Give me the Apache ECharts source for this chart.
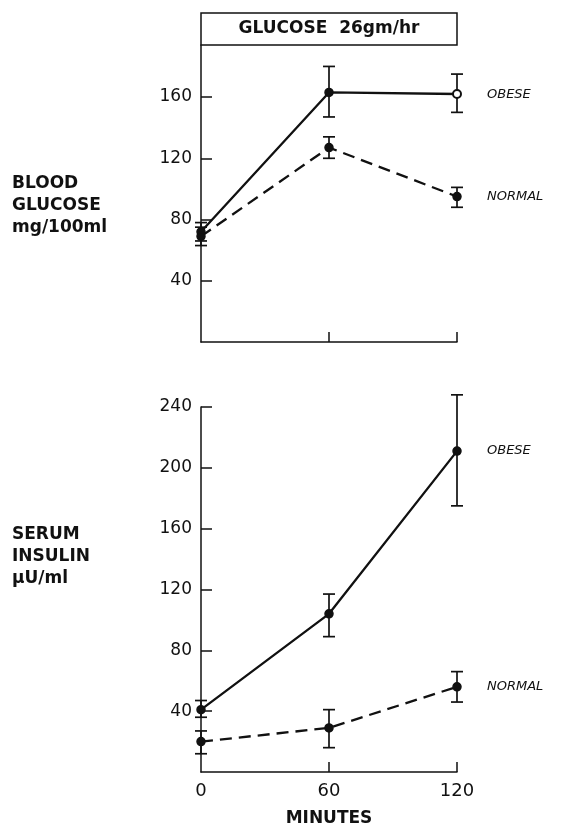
<!DOCTYPE html>
<html>
<head>
<meta charset="utf-8">
<script src="https://cdn.jsdelivr.net/npm/echarts@6/dist/echarts.min.js"></script>
<style>html,body{margin:0;padding:0;background:#fff;}#c{width:573px;height:828px;}</style>
</head>
<body>
<div id="c"></div>
<script>
// ---- data ----
const minutes = [0, 60, 120];
const minuteTicks = [0, 60, 120];
const glucoseTicks = [40, 80, 120, 160];
const insulinTicks = [40, 80, 120, 160, 200, 240];

const glucoseObese = [72, 163, 162];
const glucoseObeseLow = [66, 147, 150];
const glucoseObeseHigh = [78, 180, 175];
const glucoseNormal = [69, 127, 95];
const glucoseNormalLow = [63, 120, 88];
const glucoseNormalHigh = [75, 134, 101];

const insulinObese = [41, 104, 211];
const insulinObeseLow = [36, 89, 175];
const insulinObeseHigh = [47, 117, 248];
const insulinNormal = [20, 29, 56];
const insulinNormalLow = [12, 16, 46];
const insulinNormalHigh = [27, 41, 66];

const titleText = 'GLUCOSE  26gm/hr';
const topLabel = ['BLOOD', 'GLUCOSE', 'mg/100ml'];
const bottomLabel = ['SERUM', 'INSULIN', '\u00B5U/ml'];
const groupNames = ['OBESE', 'NORMAL'];
const xName = 'MINUTES';

// ---- helpers ----
const pairs = (xs, ys) => xs.map((x, i) => [x, ys[i]]);
const triples = (xs, lo, hi) => xs.map((x, i) => [x, lo[i], hi[i]]);
const FONT = 'DejaVu Sans';

function errRender(params, api) {
  const x = api.value(0);
  const p1 = api.coord([x, api.value(1)]);
  const p2 = api.coord([x, api.value(2)]);
  const cap = 6;
  const st = { stroke: '#111', lineWidth: 1.7 };
  return {
    type: 'group',
    children: [
      { type: 'line', shape: { x1: p1[0], y1: p1[1], x2: p2[0], y2: p2[1] }, style: st },
      { type: 'line', shape: { x1: p1[0] - cap, y1: p1[1], x2: p1[0] + cap, y2: p1[1] }, style: st },
      { type: 'line', shape: { x1: p2[0] - cap, y1: p2[1], x2: p2[0] + cap, y2: p2[1] }, style: st }
    ]
  };
}

const axisLineStyle = { color: '#111', width: 1.5 };

function xAxisCfg(gridIndex, showLabels) {
  return {
    type: 'value', gridIndex: gridIndex, min: 0, max: 120, interval: 60,
    axisLine: { show: true, onZero: false, lineStyle: axisLineStyle },
    axisTick: { show: true, inside: true, length: 10, lineStyle: axisLineStyle, customValues: [60, 120] },
    axisLabel: showLabels ? { show: true, margin: 10, color: '#111', fontFamily: FONT, fontSize: 18, customValues: minuteTicks } : { show: false },
    splitLine: { show: false },
    name: showLabels ? xName : '',
    nameLocation: 'middle', nameGap: 38,
    nameTextStyle: { color: '#111', fontFamily: FONT, fontWeight: 'bold', fontSize: 17 }
  };
}

function yAxisCfg(gridIndex, max, ticks) {
  return {
    type: 'value', gridIndex: gridIndex, min: 0, max: max, interval: 40,
    axisLine: { show: true, onZero: false, lineStyle: axisLineStyle },
    axisTick: { show: true, inside: true, length: 11, lineStyle: axisLineStyle, customValues: ticks },
    axisLabel: { show: true, margin: 9, color: '#111', fontFamily: FONT, fontSize: 17, customValues: ticks },
    splitLine: { show: false }
  };
}

function lineSeries(xi, yi, data, dashed, symbol) {
  return {
    type: 'line', xAxisIndex: xi, yAxisIndex: yi, data: data,
    symbol: symbol, symbolSize: 8, showSymbol: true, animation: false,
    lineStyle: { color: '#111', width: 2.3, type: dashed ? [12, 7] : 'solid' },
    itemStyle: { color: '#111', borderColor: '#111', borderWidth: 1.5 },
    z: 3
  };
}

function errSeries(xi, yi, data) {
  return {
    type: 'custom', xAxisIndex: xi, yAxisIndex: yi, data: data,
    renderItem: errRender, encode: { x: 0, y: [1, 2] }, animation: false, z: 2
  };
}

function textLines(lines, x, yStart, step, style) {
  return lines.map((t, i) => ({
    type: 'text', left: x, top: yStart + i * step,
    style: Object.assign({ text: t, fill: '#111', fontFamily: FONT }, style)
  }));
}

// top obese: open circle on the last reading
const obeseTopSymbol = (value) => (value[0] === 120 ? 'emptyCircle' : 'circle');

const chart = echarts.init(document.getElementById('c'), null, { renderer: 'canvas' });
chart.setOption({
  backgroundColor: '#fff',
  animation: false,
  grid: [
    { left: 201, right: 116, top: 45, height: 297 },
    { left: 201, right: 116, top: 407, height: 370 }
  ],
  xAxis: [xAxisCfg(0, false), xAxisCfg(1, true)],
  yAxis: [yAxisCfg(0, 194, glucoseTicks), yAxisCfg(1, 240, insulinTicks)],
  series: [
    errSeries(0, 0, triples(minutes, glucoseObeseLow, glucoseObeseHigh)),
    errSeries(0, 0, triples(minutes, glucoseNormalLow, glucoseNormalHigh)),
    lineSeries(0, 0, pairs(minutes, glucoseObese), false, obeseTopSymbol),
    lineSeries(0, 0, pairs(minutes, glucoseNormal), true, 'circle'),
    errSeries(1, 1, triples(minutes, insulinObeseLow, insulinObeseHigh)),
    errSeries(1, 1, triples(minutes, insulinNormalLow, insulinNormalHigh)),
    lineSeries(1, 1, pairs(minutes, insulinObese), false, 'circle'),
    lineSeries(1, 1, pairs(minutes, insulinNormal), true, 'circle')
  ],
  graphic: [
    { type: 'rect', shape: { x: 201, y: 13, width: 256, height: 32 },
      style: { fill: '#fff', stroke: '#111', lineWidth: 1.5 }, z: 10 },
    { type: 'text', x: 329, y: 29, z: 11,
      style: { text: titleText, fill: '#111', fontFamily: FONT, fontWeight: 'bold', fontSize: 17,
               align: 'center', verticalAlign: 'middle' } },
    ...textLines(topLabel, 12, 175, 22, { fontWeight: 'bold', fontSize: 17 }),
    ...textLines(bottomLabel, 12, 526, 22, { fontWeight: 'bold', fontSize: 17 }),
    { type: 'text', left: 487, top: 88, style: { text: groupNames[0], fill: '#111', fontFamily: FONT, fontStyle: 'italic', fontSize: 13 } },
    { type: 'text', left: 487, top: 190, style: { text: groupNames[1], fill: '#111', fontFamily: FONT, fontStyle: 'italic', fontSize: 13 } },
    { type: 'text', left: 487, top: 444, style: { text: groupNames[0], fill: '#111', fontFamily: FONT, fontStyle: 'italic', fontSize: 13 } },
    { type: 'text', left: 487, top: 680, style: { text: groupNames[1], fill: '#111', fontFamily: FONT, fontStyle: 'italic', fontSize: 13 } }
  ]
});
</script>
</body>
</html>
